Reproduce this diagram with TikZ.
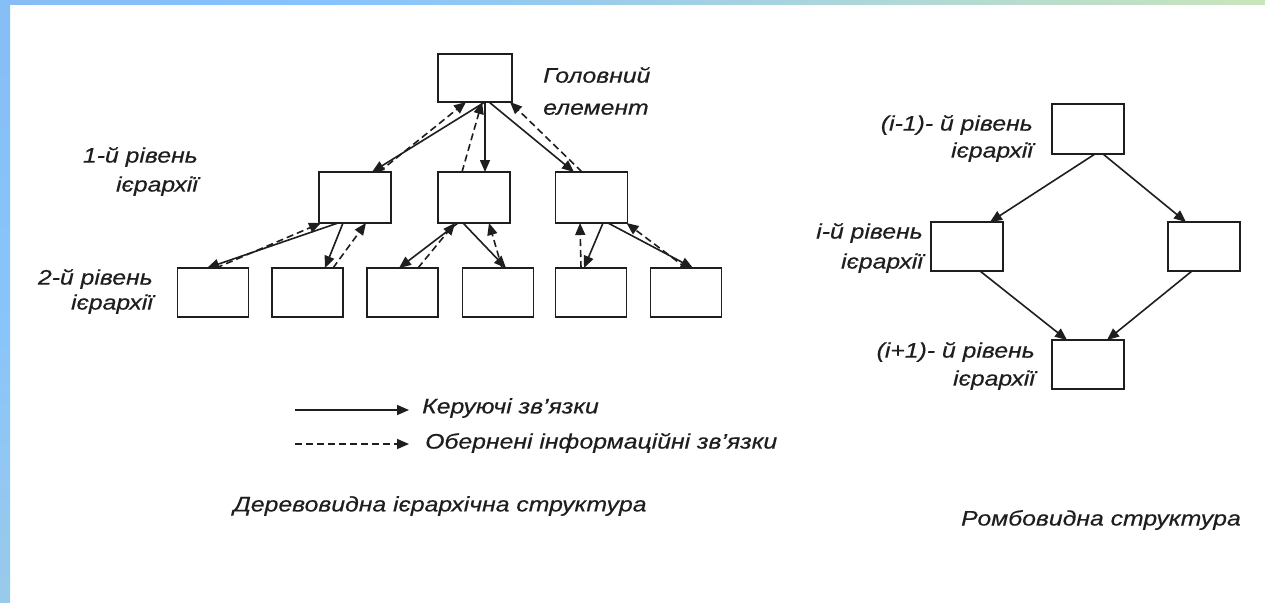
\documentclass[tikz,border=0pt]{standalone}
\usepackage{fontspec}
\setmainfont{Liberation Sans}[FakeStretch=1.18, FakeBold=0.4]
\usetikzlibrary{arrows.meta}
\definecolor{ink}{RGB}{30,30,30}
\definecolor{bandA}{RGB}{134,189,244}
\definecolor{bandB}{RGB}{134,194,253}
\definecolor{bandC}{RGB}{168,212,222}
\definecolor{bandD}{RGB}{201,229,187}
\definecolor{sideA}{RGB}{134,190,246}
\definecolor{sideB}{RGB}{136,196,252}
\definecolor{sideC}{RGB}{152,202,234}
\tikzset{
  box/.style={draw=ink, line width=1.8pt, fill=white, outer sep=0pt, inner sep=0pt},
  lbl/.style={font=\fontsize{21}{29}\selectfont\itshape, text=ink, inner sep=0pt},
  ctrl/.style={draw=ink, line width=1.6pt, -{Triangle[length=12pt,width=10pt]}},
  fb/.style={draw=ink, line width=1.6pt, dash pattern=on 7pt off 4pt, -{Triangle[length=12pt,width=10pt]}},
}
\begin{document}
\begin{tikzpicture}[x=1pt,y=-1pt]
\useasboundingbox (0,0) rectangle (1265,602);
\fill[white] (0,0) rectangle (1265,602);
% frame bands
\shade[left color=bandA, right color=bandB] (0,0) rectangle (320,5);
\shade[left color=bandB, right color=bandD, middle color=bandC] (320,0) rectangle (1265,5);
\shade[top color=sideA, bottom color=sideC, middle color=sideB] (0,0) rectangle (10,602);

% tree boxes
\node[box, minimum width=74, minimum height=48] (h) at (475,78) {};
\node[box, minimum width=72, minimum height=51] (a) at (355,197.5) {};
\node[box, minimum width=72, minimum height=51] (b) at (474,197.5) {};
\node[box, minimum width=72, minimum height=51] (c) at (591.5,197.5) {};
\node[box, minimum width=71, minimum height=49] (l1) at (213,292.5) {};
\node[box, minimum width=71, minimum height=49] (l2) at (307.5,292.5) {};
\node[box, minimum width=71, minimum height=49] (l3) at (402.5,292.5) {};
\node[box, minimum width=71, minimum height=49] (l4) at (498,292.5) {};
\node[box, minimum width=71, minimum height=49] (l5) at (591,292.5) {};
\node[box, minimum width=71, minimum height=49] (l6) at (686,292.5) {};

% head to level 1
\draw[ctrl] ([xshift=10]h.south) -- ([xshift=17]a.north);
\draw[fb] ([xshift=24]a.north) -- ([xshift=-9]h.south);
\draw[ctrl] ([xshift=10]h.south) -- ([xshift=11]b.north);
\draw[fb] ([xshift=-12]b.north) -- ([xshift=7]h.south);
\draw[ctrl] ([xshift=14]h.south) -- ([xshift=-17.5]c.north);
\draw[fb] ([xshift=-9.5]c.north) -- ([xshift=35]h.south);

% level 1 to level 2
\draw[ctrl] ([xshift=-17]a.south) -- ([xshift=-6]l1.north);
\draw[fb] ([xshift=3]l1.north) -- ([xshift=-34]a.south);
\draw[ctrl] ([xshift=-12]a.south) -- ([xshift=17.5]l2.north);
\draw[fb] ([xshift=25.5]l2.north) -- ([xshift=11]a.south);
\draw[ctrl] ([xshift=-16]b.south) -- ([xshift=-3.5]l3.north);
\draw[fb] ([xshift=15.5]l3.north) -- ([xshift=-19]b.south);
\draw[ctrl] ([xshift=-11]b.south) -- ([xshift=8]l4.north);
\draw[fb] ([xshift=4]l4.north) -- ([xshift=15]b.south);
\draw[ctrl] ([xshift=11.5]c.south) -- ([xshift=-7]l5.north);
\draw[fb] ([xshift=-10]l5.north) -- ([xshift=-11.5]c.south);
\draw[ctrl] ([xshift=16.5]c.south) -- ([xshift=7]l6.north);
\draw[fb] ([xshift=0]l6.north) -- ([xshift=35]c.south);

% tree labels
\node[lbl, anchor=west, align=left, font=\fontsize{21}{32}\selectfont\itshape] (hl) at (543,91) {Головний\\елемент};
\node[lbl, anchor=east, align=right] (lv1) at (198,171.5) {1-й рівень\\ієрархії};
\node[lbl, anchor=east, align=right, font=\fontsize{21}{25}\selectfont\itshape] (lv2) at (153,291.5) {2-й рівень\\ієрархії};

% legend
\coordinate (ls1) at (295,410);
\coordinate (ls2) at (295,444);
\node[lbl, anchor=west] (lt1) at (422,408) {Керуючі зв’язки};
\node[lbl, anchor=west] (lt2) at (425,443) {Обернені інформаційні зв’язки};
\draw[ctrl] (ls1) -- ([xshift=-13]lt1.west |- ls1);
\draw[fb] (ls2) -- ([xshift=-16]lt2.west |- ls2);

% caption
\node[lbl] (cap1) at (440,506) {Деревовидна ієрархічна структура};

% rhombus
\node[box, minimum width=72, minimum height=50] (t) at (1088,129) {};
\node[box, minimum width=72, minimum height=49] (lf) at (967,246.5) {};
\node[box, minimum width=72, minimum height=49] (rt) at (1204,246.5) {};
\node[box, minimum width=72, minimum height=49] (bt) at (1088,364.5) {};
\draw[ctrl] ([xshift=7]t.south) -- ([xshift=23]lf.north);
\draw[ctrl] ([xshift=15]t.south) -- ([xshift=-18]rt.north);
\draw[ctrl] ([xshift=13]lf.south) -- ([xshift=-21]bt.north);
\draw[ctrl] ([xshift=-12]rt.south) -- ([xshift=19]bt.north);

\node[lbl, anchor=east, align=right, font=\fontsize{21}{27}\selectfont\itshape] (r1) at (1033,138.5) {(i-1)- й рівень\\ієрархії};
\node[lbl, anchor=east, align=right, font=\fontsize{21}{30}\selectfont\itshape] (r2) at (923,248) {і-й рівень\\ієрархії};
\node[lbl, anchor=east, align=right, font=\fontsize{21}{28}\selectfont\itshape] (r3) at (1035,366) {(i+1)- й рівень\\ієрархії};

\node[lbl] (cap2) at (1101,520) {Ромбовидна структура};
\end{tikzpicture}
\end{document}
